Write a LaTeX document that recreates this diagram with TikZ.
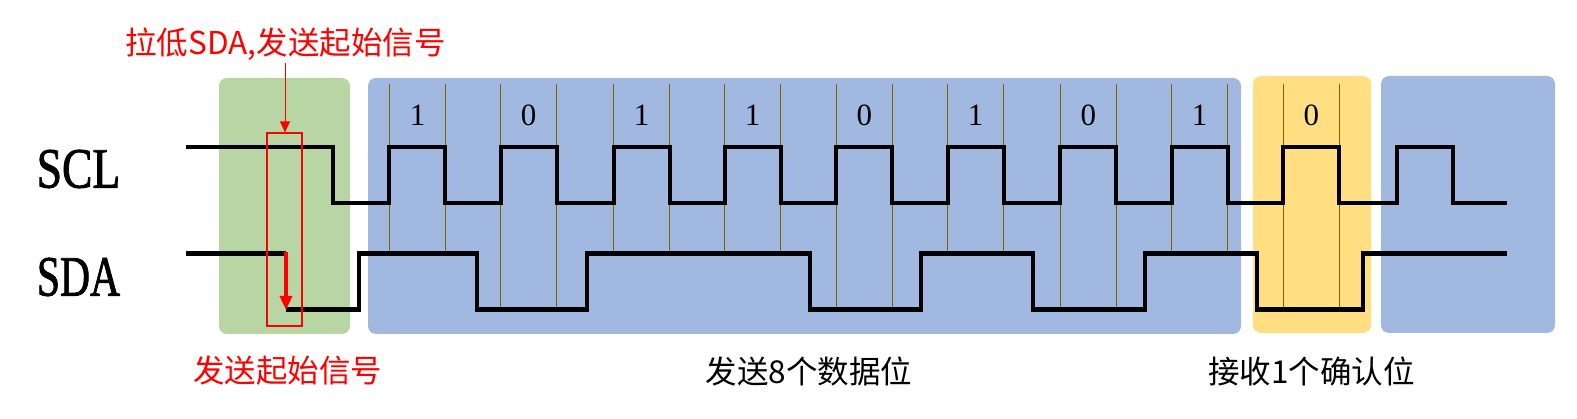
\documentclass[tikz,border=0pt]{standalone}
\usepackage{fontspec}
\setmainfont{Liberation Serif}
\newfontfamily\cjk{Noto Sans CJK SC}
\newfontfamily\sigfont[RawFeature={embolden=1.6}]{Liberation Serif}
\usetikzlibrary{arrows.meta}
\definecolor{boxgreen}{HTML}{B8D6A4}
\definecolor{boxblue}{HTML}{A1B8E0}
\definecolor{boxyellow}{HTML}{FFDF82}
\definecolor{tickbrown}{HTML}{7F6000}
\tikzset{
  region/.style={rounded corners=8pt, draw=none},
  wave/.style={line width=4.2pt, line join=miter, black},
  tick/.style={line width=1pt, tickbrown},
  bitlabel/.style={font=\fontsize{31pt}{31pt}\selectfont, inner sep=0pt},
  siglabel/.style={font=\sigfont\fontsize{57pt}{57pt}\selectfont, inner sep=0pt},
  cjklabel/.style={font=\cjk\fontsize{31.5pt}{31.5pt}\selectfont, inner sep=0pt},
  redmark/.style={draw=red, line width=1.2pt},
}
\begin{document}
\begin{tikzpicture}[x=1pt,y=-1pt]
\useasboundingbox (0,0) rectangle (1577,419);
% background regions
\fill[region, boxgreen] (219,78) rectangle (350,334);
\fill[region, boxblue] (368,78) rectangle (1241,334);
\fill[region, boxyellow] (1253,76) rectangle (1371,333);
\fill[region, boxblue] (1381,76) rectangle (1555,333);
% signal names
\node[siglabel] (scl) at (78.5,169) {\scalebox{0.8}[1]{SCL}};
\node[siglabel] (sda) at (78.5,277) {\scalebox{0.73}[1]{SDA}};
% ticks and bit values
\foreach \r/\f/\y/\b [count=\i] in {389.3/445.7/253.5/1, 500.7/556.7/309.5/0, 613.7/669.7/253.5/1, 724.7/780.7/253.5/1, 836.3/892.3/309.5/0, 947.7/1003.3/253.5/1, 1060.3/1116.3/309.5/0, 1171.7/1227.3/253.5/1, 1283.3/1339.3/309.5/0}{
  \draw[tick] (\r,84) -- (\r,\y);
  \draw[tick] (\f,84) -- (\f,\y);
  \node[bitlabel] (bit\i) at ({(\r+\f)/2},115) {\b};
}
% SCL waveform
\draw[wave] (186,147) -- (333,147) -- (333,203)
  \foreach \r in {389.3,500.7,613.7,724.7,836.3,947.7,1060.3,1171.7,1283.3,1396.7}{
    -- (\r,203) -- (\r,147) -- ({\r+56},147) -- ({\r+56},203)
  } -- (1507,203);
% SDA waveform
\draw[wave] (186,253.5) -- (286,253.5) (286,309.5) -- (359.3,309.5) -- (359.3,253.5)
  -- (476.7,253.5) -- (476.7,309.5) -- (587.3,309.5) -- (587.3,253.5)
  -- (810,253.5) -- (810,309.5) -- (921,309.5) -- (921,253.5)
  -- (1033.3,253.5) -- (1033.3,309.5) -- (1145,309.5) -- (1145,253.5)
  -- (1257.3,253.5) -- (1257.3,309.5) -- (1363.3,309.5) -- (1363.3,253.5)
  -- (1507,253.5);
% start condition marking
\node[redmark, minimum width=35pt, minimum height=193pt, inner sep=0pt] (redbox) at (284.5,229.5) {};
\node[cjklabel, text=red] (toplabel) at (285.5,44) {拉低SDA,发送起始信号};
\coordinate (arrowtop) at (285,63);
\draw[red, line width=1pt, -{Triangle[width=10pt,length=11pt]}] (arrowtop) -- (arrowtop |- redbox.north);
\coordinate (sdafall) at (286,252);
\coordinate (sdalow) at (286,310);
\draw[red, line width=3.5pt, -{Triangle[width=12pt,length=14pt]}] (sdafall) -- (sdalow);
% bottom captions
\node[cjklabel, text=red] (startcap) at (287.5,371) {发送起始信号};
\node[cjklabel] (datacap) at (809,371) {发送8个数据位};
\node[cjklabel] (ackcap) at (1311.5,371) {接收1个确认位};
\end{tikzpicture}
\end{document}
